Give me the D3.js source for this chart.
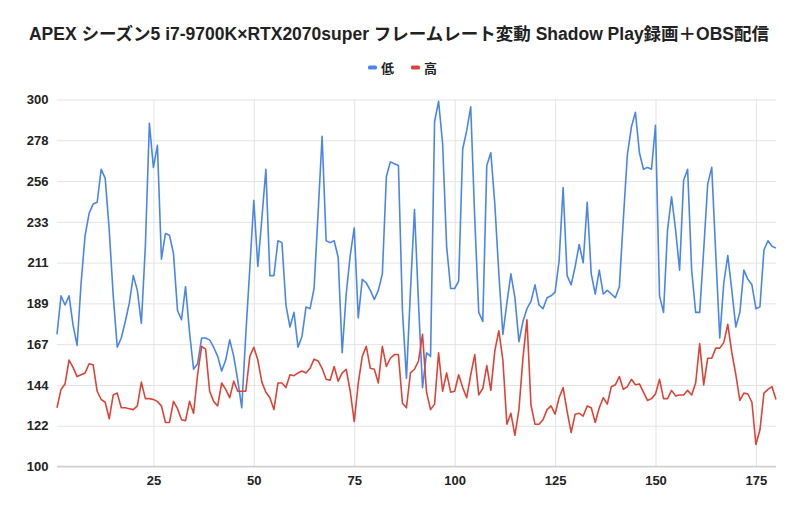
<!DOCTYPE html>
<html><head><meta charset="utf-8">
<script src="https://cdn.jsdelivr.net/npm/d3@7"></script>
<style>
html,body{margin:0;padding:0;background:#fff;}
svg{display:block;}
</style></head>
<body>
<svg id="chart" width="800" height="513"></svg>
<script>
const titleText = "APEX シーズン5 i7-9700K×RTX2070super フレームレート変動 Shadow Play録画＋OBS配信";
const seriesNames = ["低", "高"];
const seriesColors = ["#4a86e8", "#db4437"];
const xTickValues = [25, 50, 75, 100, 125, 150, 175];
const yTickValues = [100, 122.22, 144.44, 166.67, 188.89, 211.11, 233.33, 255.56, 277.78, 300];

const lowValues = [
172,193,188,193,177,166,200,226,238,243,
244,262,257,229,193,165,170,179,189,204,
196,178,220,287,263,275,213,227,226,216,
185,180,198,173,153,156,170,170,169,165,
160,152,158,169,160,147,132,172,208,245,
209,235,262,204,204,223,222,188,176,184,
165,171,187,186,197,238,280,223,222,223,
214,162,194,215,230,181,202,200,196,191,
196,205,258,266,265,264,185,148,196,240,
189,143,162,160,288,299,276,220,197,197,
201,273,283,296,235,184,179,264,271,243,
205,172,189,205,192,168,179,186,190,199,
188,186,192,193,195,212,252,204,199,209,
221,211,244,205,194,207,194,196,194,192,
198,235,270,285,293,271,262,263,262,286,
193,184,229,247,229,207,256,262,207,184,
184,218,254,263,216,170,200,215,196,176,
184,207,202,199,186,187,218,223,220,219
];
const highValues = [
132,142,145,158,154,149,150,151,156,155.5,
141,136.5,135,126,139,140,132,132,131.5,131,
133,146,137,137,136.5,135.5,133,124,124,135.5,
131.5,125.5,125,135.5,129,150,165.5,164,141,135.5,
133,145.5,142,137.5,146.5,141,141,141,160,165,
158,146,140.5,137.5,131,145.5,145.5,143,150,149.5,
151,152,151,153.5,158.5,157.5,153.5,147.5,147,154.5,
146.5,151,153,141,124.5,145.5,160,165.5,153.5,153,
145.5,165.5,154.5,159,161,161,134.5,132,151,153,
157.5,172,140.5,131,134,162,141,151,140.5,141,
150,143,137.5,150,161,139,142.5,155,141.5,163,
174,158,123,129,117,131,159,180,133.5,123,
123,125.5,131,133,128.5,137.5,143,130,118.5,128.5,
129,127.5,133,132,124,132,137.5,134,143.5,144.5,
149,142,143.5,147.5,144.5,145,140.5,136,137,139.5,
147.5,137,137,141.5,138.5,139,139,141.5,139,145.5,
167,144.5,159,159,164.5,164.5,167.5,177.5,162,150,
136,140,139.5,135,112,120,140,142,143.5,136.5
];

const svg = d3.select("#chart");
const x = d3.scaleLinear().domain([1, lowValues.length]).range([57, 776]);
const y = d3.scaleLinear().domain([100, 300]).range([466.5, 99.5]);
const FONT = "'Liberation Sans', Arial, 'Noto Sans CJK JP', sans-serif";

// title
svg.append("text")
  .attr("x", 399).attr("y", 39.5)
  .attr("text-anchor", "middle")
  .attr("font-family", FONT)
  .attr("font-weight", "bold")
  .attr("font-size", 17.5)
  .attr("fill", "#222")
  .text(titleText);

// legend
const legend = svg.append("g");
const legendItems = [{name: seriesNames[0], color: seriesColors[0], x: 368},
                     {name: seriesNames[1], color: seriesColors[1], x: 411}];
legendItems.forEach(d => {
  legend.append("rect").attr("x", d.x).attr("y", 65.5).attr("width", 9).attr("height", 4)
    .attr("rx", 1.5).attr("fill", d.color);
  legend.append("text").attr("x", d.x + 13).attr("y", 72.5)
    .attr("font-family", FONT).attr("font-weight", "bold").attr("font-size", 13)
    .attr("fill", "#222").text(d.name);
});

// horizontal grid
const yAxis = d3.axisLeft(y).tickValues(yTickValues).tickSize(-(776 - 57)).tickFormat(d => Math.round(d));
const gy = svg.append("g").attr("transform", "translate(57,0)").call(yAxis);
gy.select(".domain").remove();
gy.selectAll(".tick line").attr("stroke", "#e3e3e3");
gy.selectAll(".tick text").attr("x", -8.5).attr("font-family", FONT).attr("font-weight", "bold")
  .attr("font-size", 13).attr("fill", "#222");

// vertical grid
const xAxis = d3.axisBottom(x).tickValues(xTickValues).tickSize(-(466.5 - 99.5)).tickFormat(d3.format("d"));
const gx = svg.append("g").attr("transform", "translate(0,466.5)").call(xAxis);
gx.select(".domain").remove();
gx.selectAll(".tick line").attr("stroke", "#e3e3e3");
gx.selectAll(".tick text").attr("y", 9).attr("dy", "0.71em").attr("font-family", FONT).attr("font-weight", "bold")
  .attr("font-size", 13).attr("fill", "#222");
// baseline
svg.append("line").attr("x1", 57).attr("x2", 776).attr("y1", y(100)).attr("y2", y(100))
  .attr("stroke", "#cfcfcf").attr("stroke-width", 1.5);

const line = d3.line().x((d, i) => x(i + 1)).y(d => y(d));
[lowValues, highValues].forEach((vals, k) => {
  svg.append("path").datum(vals)
    .attr("fill", "none")
    .attr("stroke", seriesColors[k])
    .attr("stroke-width", 1.6)
    .attr("stroke-linejoin", "round")
    .attr("d", line);
});
</script>
</body></html>
